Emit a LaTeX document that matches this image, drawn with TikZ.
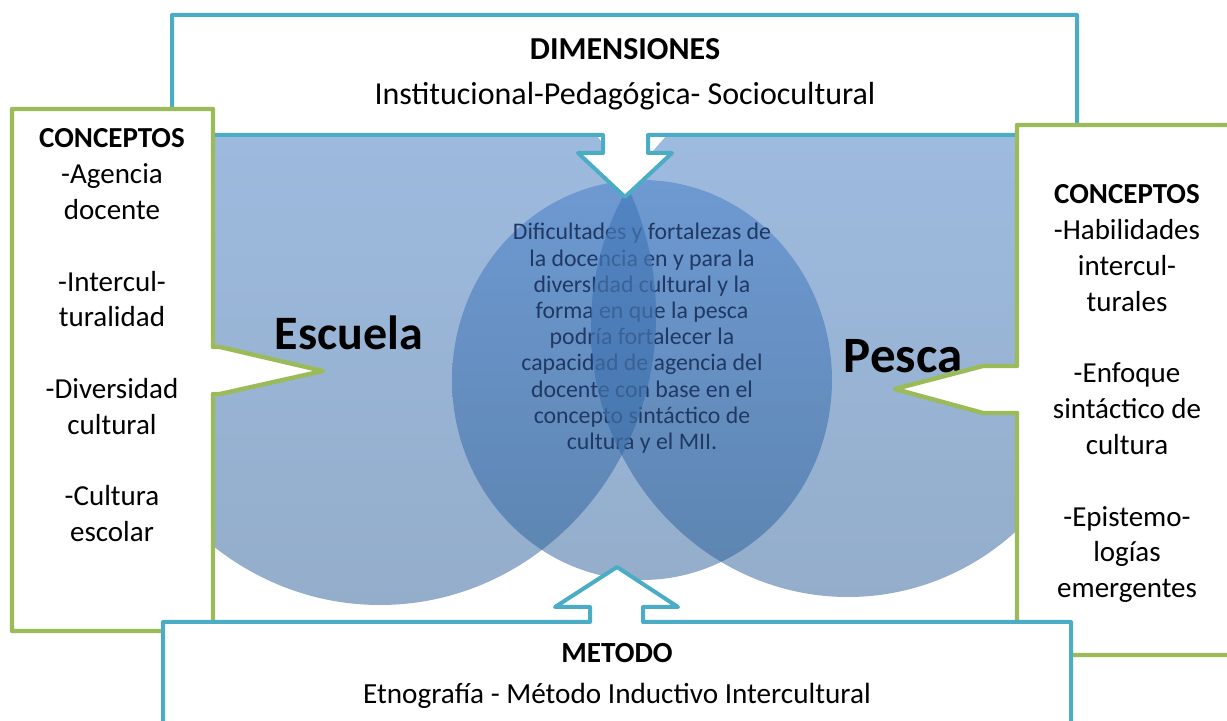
\documentclass[tikz,border=0pt]{standalone}
\usepackage{fontspec}
\setmainfont{Carlito}
\definecolor{tealc}{HTML}{4BACC6}
\definecolor{greenc}{HTML}{9BBB59}
\definecolor{blobtop}{RGB}{64,123,199}
\definecolor{blobbot}{RGB}{40,92,150}
\definecolor{lenstop}{RGB}{82,132,194}
\definecolor{lensbot}{RGB}{72,119,173}
\definecolor{txtc}{HTML}{1F3864}
\newcommand{\setfs}[2]{\fontsize{#1pt}{#2pt}\selectfont}
\begin{document}
\begin{tikzpicture}[x=0.5pt,y=-0.5pt,
  tealbox/.style={draw=tealc, line width=2pt, fill=white, line join=round},
  greenbox/.style={draw=greenc, line width=2.2pt, fill=white, line join=round},
  blob/.style={top color=blobtop, bottom color=blobbot, fill opacity=0.5},
  boxtxt/.style={anchor=base, inner sep=0pt}]
\useasboundingbox (0,0) rectangle (1227,721);
% circles
\shade[blob] (380,315) ellipse [x radius=276, y radius=290];
\shade[blob] (848,327) ellipse [x radius=257, y radius=270];
\shade[blob] (642,380) ellipse [x radius=190, y radius=200];
% centre text
\node[boxtxt] (centro) at (642,240) {\setfs{11.9}{13.1}\color{txtc}\begin{tabular}[t]{@{}c@{}}Dificultades y fortalezas de\\la docencia en y para la\\diversIdad cultural y la\\forma en que la pesca\\podría fortalecer la\\capacidad de agencia del\\docente con base en el\\concepto sintáctico de\\cultura y el MII.\end{tabular}};
\begin{scope}
  \clip (380,315) ellipse [x radius=276, y radius=290];
  \clip (848,327) ellipse [x radius=257, y radius=270];
  \shade[top color=lenstop, bottom color=lensbot, fill opacity=0.6] (560,188) rectangle (700,462);
\end{scope}
% big labels
\node[boxtxt, font=\setfs{24}{28}\bfseries] (escuela) at (349,350) {Escuela};
\node[boxtxt, font=\setfs{25.5}{30}\bfseries] (pesca) at (903,373) {Pesca};
% top box with down arrow
\draw[tealbox] (172,15) -- (1077,15) -- (1077,135) -- (648,135) -- (648,153) -- (672,153) -- (625,197) -- (578,153) -- (603,153) -- (603,135) -- (172,135) -- cycle;
% left box
\draw[greenbox] (12,109) -- (213,109) -- (213,347) -- (220,347) -- (323,371) -- (220,394) -- (213,394) -- (213,631) -- (12,631) -- cycle;
% right box
\draw[greenbox] (1017,125) -- (1245,125) -- (1245,655) -- (1017,655) -- (1017,413) -- (983,413) -- (895,389) -- (983,366) -- (1017,366) -- cycle;
% bottom box with up arrow
\draw[tealbox] (163,622) -- (590,622) -- (590,607) -- (555,607) -- (617,567) -- (678,607) -- (643,607) -- (643,622) -- (1071,622) -- (1071,745) -- (163,745) -- cycle;
% texts
\node[boxtxt, font=\setfs{16}{19}\bfseries] (dimtitle) at (625,60) {DIMENSIONES};
\node[boxtxt, font=\setfs{16}{19}] (dimbody) at (625,105) {Institucional-Pedagógica- Sociocultural};
\node[boxtxt, font=\setfs{14.6}{18}\bfseries] (mettitle) at (617,662) {METODO};
\node[boxtxt, font=\setfs{14.6}{18}] (metbody) at (617,703) {Etnografía - Método Inductivo Intercultural};
\node[boxtxt] (conizq) at (112,148) {\setfs{14.5}{17.9}\begin{tabular}[t]{@{}c@{}}\textbf{CONCEPTOS}\\-Agencia\\docente\\ \\-Intercul-\\turalidad\\ \\-Diversidad\\cultural\\ \\-Cultura\\escolar\end{tabular}};
\node[boxtxt] (conder) at (1127,204) {\setfs{14.5}{17.9}\begin{tabular}[t]{@{}c@{}}\textbf{CONCEPTOS}\\-Habilidades\\intercul-\\turales\\ \\-Enfoque\\sintáctico de\\cultura\\ \\-Epistemo-\\logías\\emergentes\end{tabular}};
\end{tikzpicture}
\end{document}
